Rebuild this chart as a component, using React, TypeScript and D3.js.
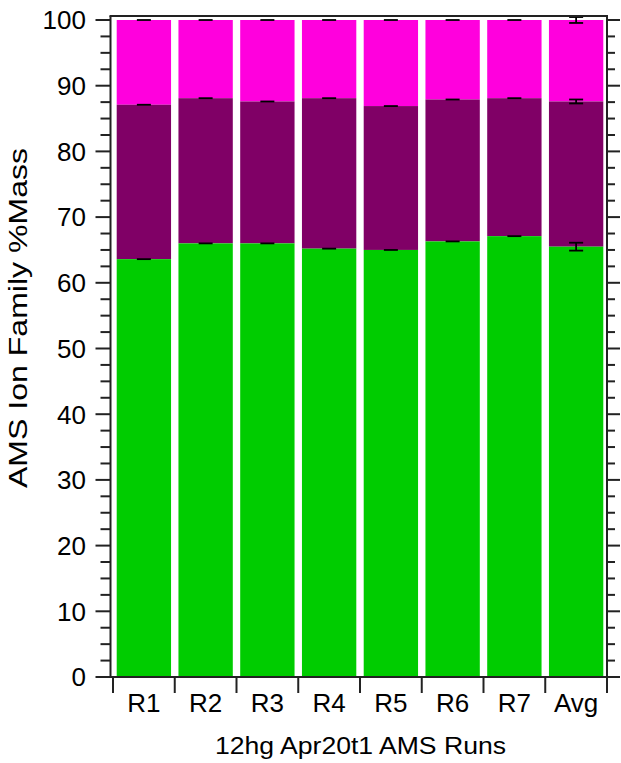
import React from "react";
import * as d3 from "d3";

const categories = ["R1", "R2", "R3", "R4", "R5", "R6", "R7", "Avg"];
const greenValues = [63.6, 66.0, 66.0, 65.2, 65.0, 66.3, 67.1, 65.5];
const purpleTops = [87.1, 88.1, 87.6, 88.1, 86.9, 87.9, 88.1, 87.6];
const pinkTops = [100, 100, 100, 100, 100, 100, 100, 100];
const greenErr = [0, 0, 0, 0, 0, 0, 0, 0.6];
const purpleErr = [0, 0, 0, 0, 0, 0, 0, 0.3];
const pinkErr = [0, 0, 0, 0, 0, 0, 0, 0.45];
const yTicks = [0, 10, 20, 30, 40, 50, 60, 70, 80, 90, 100];
const xTitle = "12hg Apr20t1 AMS Runs";
const yTitle = "AMS Ion Family %Mass";

const GREEN = "#00CC00";
const PURPLE = "#800066";
const PINK = "#FF00DD";
const AXIS = "#222";
const FONT = "'Liberation Sans', Arial, sans-serif";

export default function App() {
  const left = 110.5, right = 607, top = 16, bottom = 677;
  const y = d3.scaleLinear().domain([0, 100]).range([677, 20]);
  const x = d3.scaleBand<string>().domain(categories).range([113, 607]).paddingInner(0.12).paddingOuter(0.06);
  const step = x.step();
  const bw = x.bandwidth();
  const minor = d3.range(0, 100.01, 2.5).filter((v) => v % 10 !== 0);
  const boundaries = d3.range(categories.length + 1).map((i) => 113 + i * step);

  const series = [
    { tops: pinkTops, bottoms: purpleTops, color: PINK, err: pinkErr },
    { tops: purpleTops, bottoms: greenValues, color: PURPLE, err: purpleErr },
    { tops: greenValues, bottoms: categories.map(() => 0), color: GREEN, err: greenErr },
  ];

  return (
    <svg width={621} height={763} style={{ display: "block", position: "absolute", left: 0, top: 0 }}>
      <rect width={621} height={763} fill="#fff" />
      {series.map((s, si) =>
        categories.map((c, i) => (
          <rect
            key={`b${si}-${i}`}
            x={x(c)!}
            y={y(s.tops[i])}
            width={bw}
            height={y(s.bottoms[i]) - y(s.tops[i])}
            fill={s.color}
          />
        ))
      )}
      {series.map((s, si) =>
        categories.map((c, i) => {
          const cx = x(c)! + bw / 2;
          const e = s.err[i];
          const y1 = y(s.tops[i] + e);
          const y2 = y(s.tops[i] - e);
          return (
            <g key={`e${si}-${i}`} stroke="#000" strokeWidth={1.8}>
              {e > 0 ? <line x1={cx} x2={cx} y1={y1} y2={y2} /> : null}
              <line x1={cx - 7} x2={cx + 7} y1={y1} y2={y1} />
              {e > 0 ? <line x1={cx - 7} x2={cx + 7} y1={y2} y2={y2} /> : null}
            </g>
          );
        })
      )}
      <g stroke={AXIS} strokeWidth={2} fill="none">
        <line x1={left} x2={left} y1={top} y2={bottom} />
        <line x1={left - 1} x2={right + 1} y1={top} y2={top} />
        <line x1={right} x2={right} y1={top} y2={bottom} />
        <line x1={left - 1} x2={right + 1} y1={bottom} y2={bottom} />
        {yTicks.map((t) => (
          <g key={`yt${t}`}>
            <line x1={left - 15} x2={left} y1={y(t)} y2={y(t)} />
            <line x1={right} x2={right + 13} y1={y(t)} y2={y(t)} />
          </g>
        ))}
        {minor.map((t) => (
          <g key={`ym${t}`}>
            <line x1={left - 10} x2={left} y1={y(t)} y2={y(t)} />
            <line x1={right} x2={right + 8} y1={y(t)} y2={y(t)} />
          </g>
        ))}
        {boundaries.map((b, i) => (
          <line key={`xb${i}`} x1={b} x2={b} y1={bottom} y2={bottom + 16} />
        ))}
      </g>
      <g fontFamily={FONT} fontSize={26} fill="#000">
        {yTicks.map((t) => (
          <text key={`yl${t}`} x={86} y={y(t)} dy="0.36em" textAnchor="end">
            {t}
          </text>
        ))}
        {categories.map((c) => (
          <text key={`xl${c}`} x={x(c)! + bw / 2} y={712} textAnchor="middle">
            {c}
          </text>
        ))}
      </g>
      <text x={360.5} y={754} textAnchor="middle" fontFamily={FONT} fontSize={23} textLength={291} lengthAdjust="spacingAndGlyphs">
        {xTitle}
      </text>
      <text
        transform="translate(27,318) rotate(-90)"
        textAnchor="middle"
        fontFamily={FONT}
        fontSize={25}
        textLength={340}
        lengthAdjust="spacingAndGlyphs"
      >
        {yTitle}
      </text>
    </svg>
  );
}
